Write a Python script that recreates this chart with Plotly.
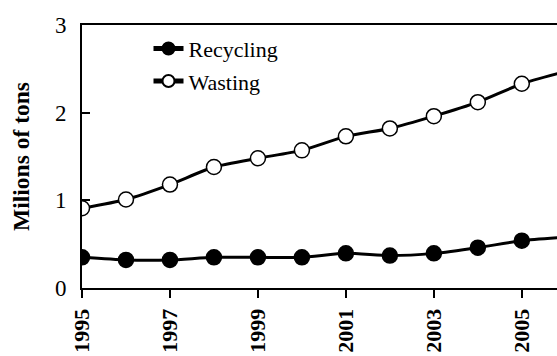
import plotly.graph_objects as go

years = [1995, 1996, 1997, 1998, 1999, 2000, 2001, 2002, 2003, 2004, 2005, 2006]
recycling = [0.35, 0.32, 0.32, 0.35, 0.35, 0.35, 0.395, 0.37, 0.395, 0.46, 0.54, 0.58]
wasting = [0.91, 1.01, 1.18, 1.38, 1.48, 1.57, 1.73, 1.82, 1.96, 2.12, 2.33, 2.47]
x_ticks = [1995, 1997, 1999, 2001, 2003, 2005]
y_ticks = [0, 1, 2, 3]

font = "Liberation Serif, Times New Roman, serif"

fig = go.Figure()
fig.add_trace(go.Scatter(
    x=years, y=recycling, name="Recycling", mode="lines+markers",
    line=dict(color="black", width=3, shape="spline", smoothing=0.6),
    marker=dict(symbol="circle", size=15, color="black", line=dict(color="black", width=1.5)),
    legendgroup="a",
))
fig.add_trace(go.Scatter(
    x=years, y=wasting, name="Wasting", mode="lines+markers",
    line=dict(color="black", width=3, shape="spline", smoothing=0.6),
    marker=dict(symbol="circle", size=15, color="white", line=dict(color="black", width=1.5)),
    legendgroup="b",
))

fig.update_layout(
    width=557, height=356,
    margin=dict(l=82, r=0, t=25, b=68),
    paper_bgcolor="white", plot_bgcolor="white",
    font=dict(family=font, color="black", size=20),
    showlegend=True,
    legend=dict(x=0.14, y=0.99, xanchor="left", yanchor="top",
                bgcolor="rgba(0,0,0,0)", font=dict(size=22, family=font),
                tracegroupgap=1, itemsizing="constant"),
)
fig.update_xaxes(
    range=[1995, 2005.8], tickvals=x_ticks, ticktext=[str(t) for t in x_ticks],
    tickangle=-90, tickfont=dict(size=22, family=font, weight="bold"),
    ticks="outside", ticklen=8, tickwidth=1.5, tickcolor="black",
    ticklabelstandoff=2,
    showline=True, linecolor="black", linewidth=2, mirror=True,
    showgrid=False, zeroline=False, automargin=False,
)
fig.update_yaxes(
    range=[0, 3], tickvals=y_ticks,
    tickfont=dict(size=23, family=font),
    ticks="inside", ticklen=8, tickwidth=1.5, tickcolor="black",
    ticklabelstandoff=9,
    showline=True, linecolor="black", linewidth=2,
    showgrid=False, zeroline=False, automargin=False,
    title=dict(text="Milions of tons", font=dict(size=23.5, family=font, weight="bold"), standoff=19),
)

fig.write_html("out.html", config={"displayModeBar": False},
               post_script="document.body.style.margin='0';")
